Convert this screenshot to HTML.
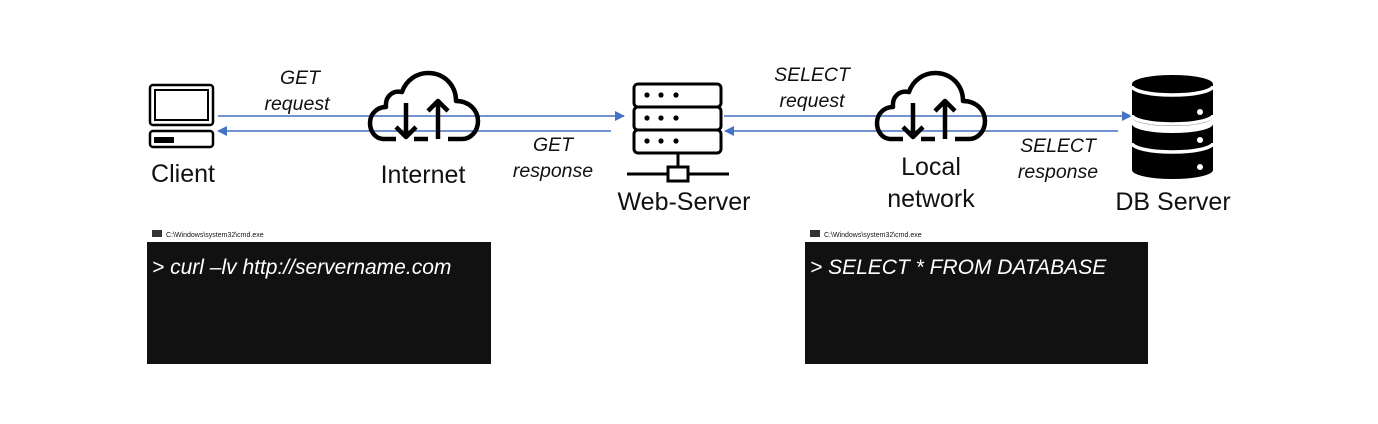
<!DOCTYPE html>
<html><head><meta charset="utf-8"><style>
html,body{margin:0;padding:0;background:#fff;}
svg{display:block;}
text{font-family:"Liberation Sans",Arial,sans-serif;fill:#111;}
.lbl{font-size:25px;}
.it{font-size:19.5px;font-style:italic;}
</style></head><body>
<svg width="1378" height="424" viewBox="0 0 1378 424" xmlns="http://www.w3.org/2000/svg">
<defs>
<marker id="ah" markerWidth="10" markerHeight="10" refX="9" refY="5" orient="auto" markerUnits="userSpaceOnUse">
<path d="M0,0 L10,5 L0,10 Z" fill="#4472c4"/></marker>
<g id="cloud" fill="none" stroke="#000" stroke-width="4.5" stroke-linejoin="round">
<path d="M26 66 H14 C5 66 0 58 0 50 C0 40 8 34 16 34 C15 24 22 17 32 19 C36 7 47 0 58 0 C74 0 86 12 86 28 C100 28 108 38 108 48 C108 58 101 66 92 66 H78"/>
<path d="M36 30 V64 M26 54 L36 64 L46 54"/>
<path d="M68 66 V28 M58 38 L68 28 L78 38"/>
<path d="M44 66 H58"/>
</g>
</defs>
<g stroke="#4472c4" stroke-width="1.5" fill="none">
<line x1="218" y1="116" x2="624" y2="116" marker-end="url(#ah)"/>
<line x1="611" y1="131" x2="218" y2="131" marker-end="url(#ah)"/>
<line x1="724" y1="116" x2="1131" y2="116" marker-end="url(#ah)"/>
<line x1="1118" y1="131" x2="725" y2="131" marker-end="url(#ah)"/>
</g>
<g fill="none" stroke="#000">
<rect x="150" y="85" width="63" height="40" rx="3" stroke-width="2.5"/>
<rect x="155" y="90" width="53" height="30" stroke-width="2"/>
<rect x="150" y="131" width="63" height="16" rx="3" stroke-width="2.5"/>
</g>
<rect x="154" y="137" width="20" height="6" fill="#000"/>
<use href="#cloud" x="370" y="73"/>
<use href="#cloud" x="877" y="73"/>
<g fill="none" stroke="#000" stroke-width="3">
<rect x="634" y="84" width="87" height="23" rx="4" fill="#fff"/>
<rect x="634" y="107" width="87" height="23" rx="4" fill="#fff"/>
<rect x="634" y="130" width="87" height="23" rx="4" fill="#fff"/>
<line x1="678" y1="153" x2="678" y2="167"/>
<line x1="627" y1="174" x2="729" y2="174"/>
<rect x="668" y="167" width="20" height="14" fill="#fff"/>
</g>
<g fill="#000">
<circle cx="647" cy="95" r="2.6"/><circle cx="661" cy="95" r="2.6"/><circle cx="676" cy="95" r="2.6"/>
<circle cx="647" cy="118" r="2.6"/><circle cx="661" cy="118" r="2.6"/><circle cx="676" cy="118" r="2.6"/>
<circle cx="647" cy="141" r="2.6"/><circle cx="661" cy="141" r="2.6"/><circle cx="676" cy="141" r="2.6"/>
</g>
<g fill="#000">
<path d="M1132 84 A40.5 9 0 0 1 1213 84 V117 A40.5 9 0 0 1 1132 117 Z"/>
<path d="M1132 124 A40.5 9 0 0 0 1213 124 V165 A40.5 9 0 0 1 1132 165 Z"/>
<path d="M1132 151 A40.5 9 0 0 0 1213 151 V170 A40.5 9 0 0 1 1132 170 Z"/>
</g>
<g fill="none" stroke="#fff" stroke-width="3.5">
<path d="M1132 86 A40.5 9 0 0 0 1213 86"/>
<path d="M1132 115 A40.5 9 0 0 0 1213 115"/>
<path d="M1132 143 A40.5 9 0 0 0 1213 143"/>
</g>
<g fill="#fff"><circle cx="1200" cy="112" r="3"/><circle cx="1200" cy="140" r="3"/><circle cx="1200" cy="167" r="3"/></g>
<text class="lbl" x="183" y="182" text-anchor="middle">Client</text>
<text class="lbl" x="423" y="183" text-anchor="middle">Internet</text>
<text class="lbl" x="684" y="210" text-anchor="middle">Web-Server</text>
<text class="lbl" x="931" y="175" text-anchor="middle">Local</text>
<text class="lbl" x="931" y="207" text-anchor="middle">network</text>
<text class="lbl" x="1173" y="210" text-anchor="middle">DB Server</text>
<text class="it" x="300" y="84" text-anchor="middle">GET</text>
<text class="it" x="297" y="110" text-anchor="middle">request</text>
<text class="it" x="553" y="151" text-anchor="middle">GET</text>
<text class="it" x="553" y="177" text-anchor="middle">response</text>
<text class="it" x="812" y="81" text-anchor="middle">SELECT</text>
<text class="it" x="812" y="107" text-anchor="middle">request</text>
<text class="it" x="1058" y="152" text-anchor="middle">SELECT</text>
<text class="it" x="1058" y="178" text-anchor="middle">response</text>
<rect x="152" y="230" width="10" height="7" fill="#333"/>
<text x="166" y="237" style="font-size:7px">C:\Windows\system32\cmd.exe</text>
<rect x="147" y="242" width="344" height="122" fill="#111"/>
<text x="152" y="274" style="font-size:21px;font-style:italic;fill:#fff">&gt; curl –lv http://servername.com</text>
<rect x="810" y="230" width="10" height="7" fill="#333"/>
<text x="824" y="237" style="font-size:7px">C:\Windows\system32\cmd.exe</text>
<rect x="805" y="242" width="343" height="122" fill="#111"/>
<text x="810" y="274" style="font-size:21px;font-style:italic;fill:#fff">&gt; SELECT * FROM DATABASE</text>
</svg>
</body></html>
